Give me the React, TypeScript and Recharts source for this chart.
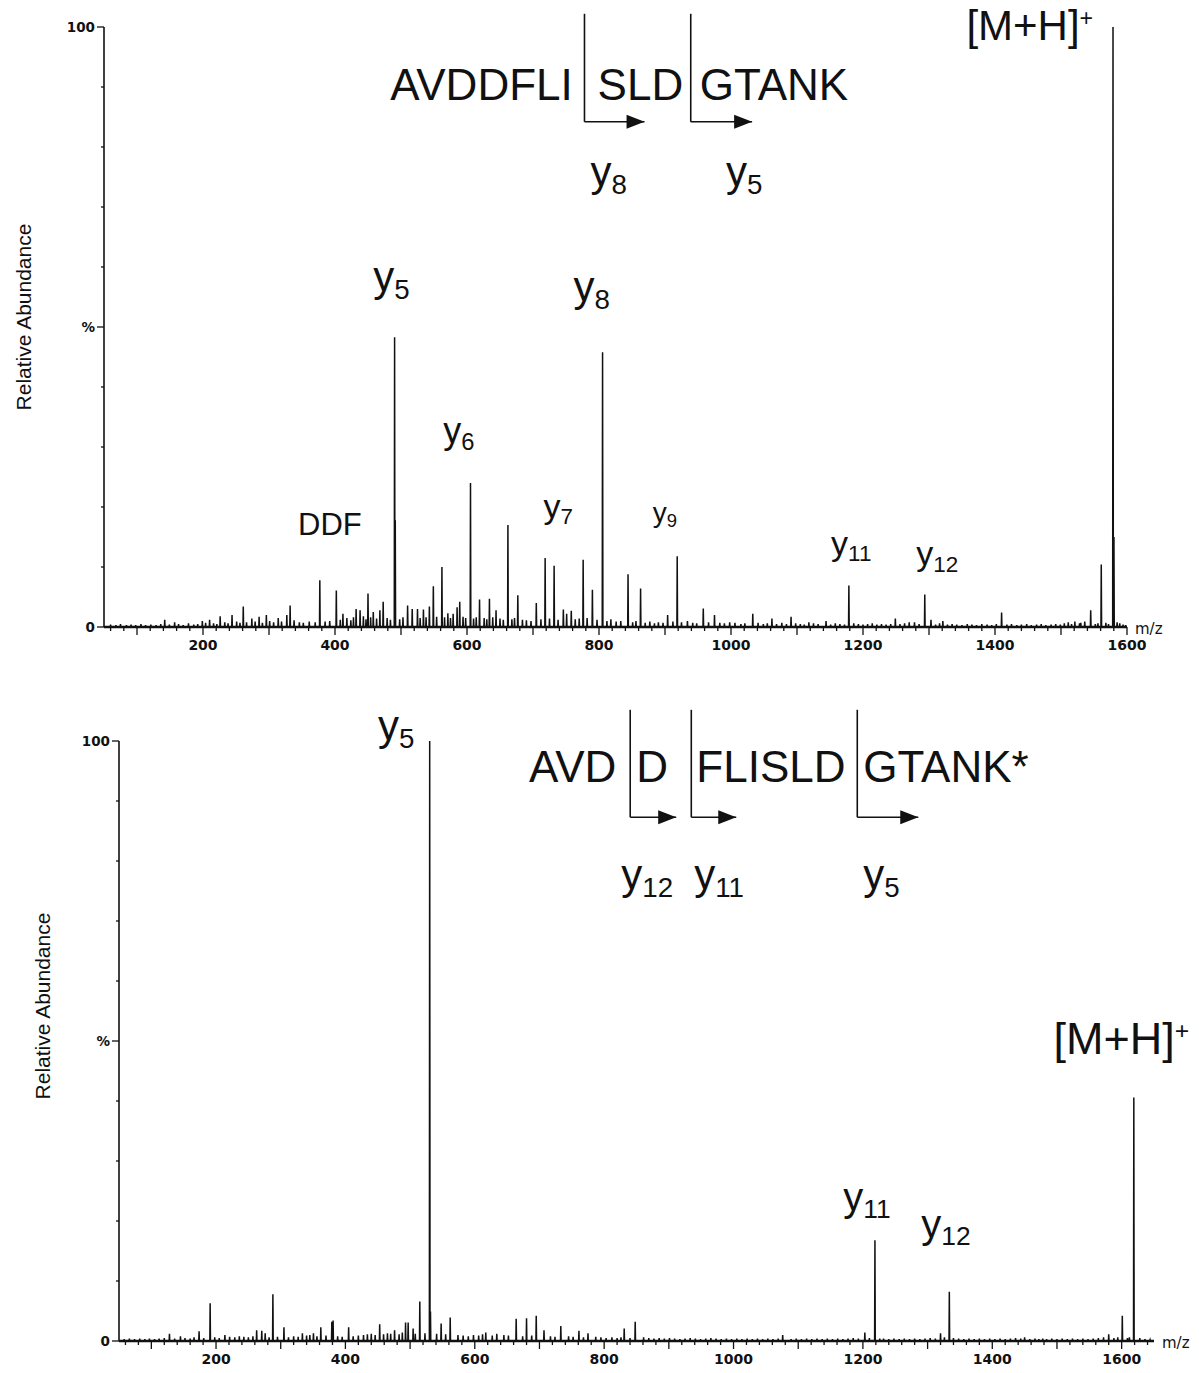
import React from "react";
import { LineChart, Line, XAxis, YAxis, ReferenceDot, ReferenceLine } from "recharts";

const SANS = "'Liberation Sans', Arial, sans-serif";
const TICK_FONT = "'DejaVu Sans', sans-serif";

// ---- top spectrum: native peptide, [m/z, relative abundance %] ----
const topPeaks: [number, number][] = [
  [142, 1.2], [157, 0.8], [199, 1], [210, 1.2], [226, 1.8], [244, 2], [261, 3.4], [274, 1.4],
  [285, 1.7], [296, 2], [314, 1.5], [327, 2], [332, 3.6], [346, 0.8], [377, 7.8], [402, 6.1],
  [412, 2.2], [432, 3], [438, 2.8], [450, 5.6], [458, 2.5], [468, 2.8], [473, 4.2],
  [490.3, 48.3], [491.3, 17.8], [510, 3.6], [517, 3], [525, 3], [534, 2.9], [543, 3.4],
  [549, 6.8], [562, 10], [571, 2.3], [579, 2.2], [585, 3.3], [589, 4.2], [605.3, 24],
  [619, 4.6], [634, 4.7], [644, 2.8], [662, 17], [677, 5.3], [705, 4], [718.4, 11.5],
  [732, 10.2], [746, 2.9], [751, 2.2], [758, 2.7], [776, 11.2], [790, 6.2], [805.4, 45.8],
  [844, 8.8], [863, 6.4], [904, 2], [918.5, 11.8], [934, 1], [958, 3.1], [975, 2],
  [1033, 2.2], [1062, 1.4], [1091, 1.7], [1118, 0.8], [1144, 1], [1178.6, 6.9], [1249, 1.4],
  [1278, 0.8], [1293.6, 5.4], [1303, 1.2], [1321, 1], [1410, 2.4], [1511, 0.8], [1521, 0.9],
  [1536, 0.9], [1545, 2.8], [1561, 10.4], [1578.8, 100], [1580.2, 15], [1589, 0.6],
];

const topNoise: [number, number][] = [
  [60, 0.4], [68, 0.3], [75, 0.5], [84, 0.3], [91, 0.4], [98, 0.3], [106, 0.5], [113, 0.3],
  [121, 0.4], [129, 0.3], [136, 0.5], [149, 0.4], [163, 0.5], [170, 0.3], [178, 0.6], [186, 0.4],
  [192, 0.5], [204, 0.7], [216, 0.6], [221, 0.5], [233, 0.8], [238, 0.6], [251, 0.9], [256, 0.7],
  [266, 0.8], [279, 0.9], [290, 0.7], [301, 1], [307, 0.8], [319, 0.9], [338, 1.1], [352, 0.7],
  [361, 0.9], [370, 0.8], [385, 0.9], [392, 1], [408, 1.2], [418, 1.5], [424, 1.1], [428, 1.6],
  [443, 1.8], [447, 1.3], [454, 1.6], [463, 1.4], [479, 1.5], [484, 1.2], [498, 1.3], [503, 1.6],
  [529, 1.5], [538, 1.6], [554, 1.7], [566, 1.6], [575, 1.5], [594, 1.7], [598, 1.5], [610, 1.4],
  [614, 1.6], [626, 1.5], [630, 1.3], [639, 1.6], [650, 1.4], [655, 1.2], [668, 1.3], [672, 1.5],
  [684, 1.2], [690, 1.1], [697, 1], [712, 1.3], [725, 1.4], [738, 1.2], [764, 1.3], [770, 1.4],
  [782, 1.5], [797, 1.2], [812, 1], [818, 1.3], [826, 0.9], [833, 1], [851, 0.8], [856, 1],
  [870, 0.7], [877, 0.9], [884, 0.6], [890, 0.8], [897, 0.7], [912, 0.9], [925, 0.8], [942, 0.7],
  [948, 0.6], [966, 0.8], [983, 0.7], [990, 0.6], [998, 0.8], [1006, 0.7], [1015, 0.5], [1021, 0.6],
  [1041, 0.7], [1049, 0.5], [1055, 0.6], [1069, 0.5], [1077, 0.7], [1084, 0.5], [1098, 0.6],
  [1105, 0.5], [1111, 0.4], [1125, 0.6], [1132, 0.5], [1151, 0.4], [1158, 0.6], [1165, 0.5],
  [1172, 0.4], [1186, 0.6], [1193, 0.5], [1200, 0.4], [1207, 0.5], [1214, 0.6], [1221, 0.4],
  [1228, 0.5], [1235, 0.4], [1242, 0.5], [1256, 0.5], [1263, 0.6], [1270, 0.8], [1285, 0.5],
  [1310, 0.4], [1316, 0.6], [1328, 0.4], [1335, 0.5], [1342, 0.4], [1350, 0.3], [1358, 0.5],
  [1365, 0.4], [1372, 0.3], [1380, 0.5], [1388, 0.4], [1395, 0.3], [1402, 0.5], [1418, 0.4],
  [1425, 0.5], [1433, 0.3], [1440, 0.4], [1448, 0.5], [1455, 0.3], [1463, 0.4], [1470, 0.5],
  [1477, 0.3], [1485, 0.4], [1492, 0.5], [1499, 0.4], [1505, 0.6], [1516, 0.5], [1528, 0.6],
  [1530, 0.7], [1552, 0.5], [1556, 0.6], [1568, 0.7], [1572, 0.5], [1585, 0.8], [1594, 0.4],
  [1598, 0.3],
];

// ---- bottom spectrum: modified peptide (K*) ----
const bottomPeaks: [number, number][] = [
  [128, 1.2], [145, 0.8], [173.8, 1.6], [190.9, 6.3], [213.7, 1], [262.8, 1.8], [270.7, 1.7],
  [276, 1.3], [287.9, 7.8], [305, 2.3], [333.5, 1.3], [350.6, 1.3], [362, 2.3], [379, 3.2],
  [381, 3.4], [405, 2.3], [453, 2.8], [476, 1.8], [493, 3.1], [497, 3.1], [504.7, 2.1],
  [515, 6.6], [530.3, 100], [531.5, 4.9], [548, 2.9], [562, 3.9], [617, 1.4], [634, 1.2],
  [664, 3.7], [680, 3.8], [695, 4.2], [707, 1.8], [733, 2.5], [761, 1.7], [775, 1.3],
  [831, 2.1], [848, 3.2], [1076, 1], [1203, 1.4], [1218.6, 16.8], [1320, 1.3],
  [1333.6, 8.2], [1450, 0.6], [1580, 1.1], [1601, 4.2], [1618.8, 40.6],
];

const bottomNoise: [number, number][] = [
  [58, 0.3], [66, 0.4], [74, 0.3], [82, 0.4], [90, 0.3], [97, 0.4], [105, 0.3], [112, 0.4],
  [120, 0.5], [136, 0.4], [152, 0.5], [160, 0.4], [166, 0.6], [181, 0.5], [198, 0.6], [205, 0.5],
  [221, 0.7], [229, 0.6], [236, 0.8], [243, 0.7], [250, 0.6], [257, 0.8], [282, 0.6], [295, 0.7],
  [312, 0.6], [320, 0.8], [327, 0.7], [340, 0.9], [345, 1], [356, 0.8], [370, 0.9], [388, 0.8],
  [395, 0.7], [412, 0.8], [420, 0.9], [428, 1], [434, 1.1], [440, 1.2], [446, 1], [459, 1.1],
  [465, 1.3], [470, 1.2], [483, 1.1], [488, 1.4], [508, 1.2], [523, 1.3], [541, 1.2], [555, 1.1],
  [574, 1], [582, 0.9], [590, 0.8], [598, 1], [606, 0.9], [612, 1.1], [627, 0.9], [645, 1],
  [652, 0.9], [674, 0.8], [688, 0.9], [717, 0.8], [724, 0.7], [745, 0.8], [752, 0.7], [768, 0.6],
  [787, 0.7], [795, 0.6], [803, 0.5], [812, 0.6], [820, 0.5], [826, 0.6], [840, 0.5], [861, 0.6],
  [869, 0.5], [877, 0.4], [885, 0.5], [893, 0.4], [901, 0.5], [909, 0.4], [917, 0.3], [925, 0.4],
  [933, 0.5], [941, 0.4], [949, 0.3], [957, 0.4], [965, 0.5], [973, 0.4], [981, 0.3], [989, 0.4],
  [997, 0.3], [1005, 0.4], [1013, 0.3], [1021, 0.4], [1029, 0.3], [1037, 0.4], [1045, 0.3],
  [1053, 0.4], [1061, 0.3], [1069, 0.4], [1089, 0.3], [1097, 0.4], [1105, 0.3], [1113, 0.4],
  [1121, 0.3], [1129, 0.4], [1137, 0.3], [1145, 0.4], [1153, 0.3], [1161, 0.4], [1169, 0.3],
  [1177, 0.4], [1185, 0.5], [1193, 0.4], [1210, 0.5], [1226, 0.4], [1232, 0.4], [1240, 0.3],
  [1248, 0.4], [1256, 0.3], [1264, 0.4], [1272, 0.3], [1280, 0.4], [1288, 0.3], [1296, 0.4],
  [1304, 0.5], [1312, 0.4], [1326, 0.6], [1340, 0.5], [1348, 0.4], [1356, 0.3], [1364, 0.4],
  [1372, 0.3], [1380, 0.4], [1388, 0.3], [1396, 0.4], [1404, 0.3], [1412, 0.4], [1420, 0.3],
  [1428, 0.4], [1436, 0.5], [1444, 0.4], [1458, 0.3], [1466, 0.4], [1472, 0.3], [1478, 0.4],
  [1484, 0.3], [1492, 0.4], [1500, 0.3], [1508, 0.4], [1516, 0.3], [1524, 0.4], [1532, 0.3],
  [1540, 0.4], [1548, 0.3], [1556, 0.4], [1564, 0.5], [1572, 0.6], [1588, 0.5], [1594, 0.6],
  [1609, 0.5], [1612, 0.6], [1628, 0.5], [1636, 0.3], [1644, 0.2],
];

// axis labels
const xLabels = [200, 400, 600, 800, 1000, 1200, 1400, 1600];
const yLabels: Record<number, string> = { 0: "0", 50: "%", 100: "100" };

// annotations, anchored in data coordinates (m/z, %)
type Ann = { mz: number; ab: number; main: string; sub?: string; sup?: string; size: number };

const topLabels: Ann[] = [
  { mz: 344, ab: 15.3, main: "DDF", size: 31 },
  { mz: 458, ab: 56, main: "y", sub: "5", size: 42 },
  { mz: 564, ab: 30.7, main: "y", sub: "6", size: 36 },
  { mz: 716, ab: 18.2, main: "y", sub: "7", size: 34 },
  { mz: 761.5, ab: 54.3, main: "y", sub: "8", size: 42 },
  { mz: 881.5, ab: 17.5, main: "y", sub: "9", size: 28 },
  { mz: 1151.7, ab: 12, main: "y", sub: "11", size: 34 },
  { mz: 1280.7, ab: 10.3, main: "y", sub: "12", size: 34 },
  { mz: 1356.7, ab: 97.8, main: "[M+H]", sup: "+", size: 42 },
  // peptide sequence and fragment names
  { mz: 483.6, ab: 87.8, main: "AVDDFLI", size: 44 },
  { mz: 797.9, ab: 87.8, main: "SLD", size: 44 },
  { mz: 952.8, ab: 87.8, main: "GTANK", size: 44 },
  { mz: 787.3, ab: 73.5, main: "y", sub: "8", size: 42 },
  { mz: 992.3, ab: 73.5, main: "y", sub: "5", size: 42 },
];

const bottomLabels: Ann[] = [
  { mz: 450.5, ab: 100.2, main: "y", sub: "5", size: 42 },
  { mz: 1169.7, ab: 21.7, main: "y", sub: "11", size: 40 },
  { mz: 1290.3, ab: 17.2, main: "y", sub: "12", size: 40 },
  { mz: 1494.5, ab: 47.8, main: "[M+H]", sup: "+", size: 45 },
  { mz: 684, ab: 93.2, main: "AVD", size: 44 },
  { mz: 849.5, ab: 93.2, main: "D", size: 44 },
  { mz: 942.5, ab: 93.2, main: "FLISLD", size: 44 },
  { mz: 1200.5, ab: 93.2, main: "GTANK*", size: 44 },
  { mz: 826.4, ab: 75.3, main: "y", sub: "12", size: 42 },
  { mz: 939.2, ab: 75.3, main: "y", sub: "11", size: 42 },
  { mz: 1200.5, ab: 75.3, main: "y", sub: "5", size: 42 },
];

// cleavage marks: vertical bar then arrow to the right
type Cut = { mz: number; tip: number; top: number; arrow: number };
const topCuts: Cut[] = [
  { mz: 778, tip: 869, top: 102.2, arrow: 84.2 },
  { mz: 939, tip: 1032, top: 102.2, arrow: 84.2 },
];
const bottomCuts: Cut[] = [
  { mz: 840.3, tip: 911.4, top: 105.2, arrow: 87.3 },
  { mz: 934.7, tip: 1004.2, top: 105.2, arrow: 87.3 },
  { mz: 1191.3, tip: 1285.6, top: 105.2, arrow: 87.3 },
];

// stick spectrum -> polyline points for the Line series
const toTrace = (peaks: [number, number][], noise: [number, number][], xMax: number) => {
  const all = [...peaks, ...noise].sort((a, b) => a[0] - b[0]);
  const out: { mz: number; ab: number }[] = [{ mz: 50, ab: 0 }];
  for (const [mz, ab] of all) {
    out.push({ mz: mz - 0.5, ab: 0 }, { mz, ab }, { mz: mz + 0.5, ab: 0 });
  }
  out.push({ mz: xMax, ab: 0 });
  return out;
};

const XTick = (props: any) => {
  const { x, y, payload } = props;
  const v = payload.value;
  const major = v % 100 === 0;
  return (
    <g>
      <line x1={x} x2={x} y1={y} y2={y + (major ? 8 : 4)} stroke="#111" strokeWidth={1.3} />
      {xLabels.includes(v) && (
        <text
          x={x}
          y={y + 23}
          textAnchor="middle"
          fontSize={14}
          fontWeight="bold"
          fontFamily={TICK_FONT}
          fill="#111"
        >
          {v}
        </text>
      )}
    </g>
  );
};

const YTick = (props: any) => {
  const { x, y, payload } = props;
  const v = payload.value;
  const lbl = yLabels[v];
  return (
    <g>
      <line x1={x - (lbl ? 7 : 3)} x2={x} y1={y} y2={y} stroke="#111" strokeWidth={1.3} />
      {lbl && (
        <text
          x={x - 9}
          y={y + 5}
          textAnchor="end"
          fontSize={13.5}
          fontWeight="bold"
          fontFamily={TICK_FONT}
          fill="#111"
        >
          {lbl}
        </text>
      )}
    </g>
  );
};

const AnnText = ({ cx, cy, a }: { cx: number; cy: number; a: Ann }) => (
  <text x={cx} y={cy} fontSize={a.size} fontFamily={SANS} fill="#111">
    {a.main}
    {a.sub && (
      <tspan fontSize={a.size * 0.66} dy={a.size * 0.19}>
        {a.sub}
      </tspan>
    )}
    {a.sup && (
      <tspan fontSize={a.size * 0.55} dy={-a.size * 0.33}>
        {a.sup}
      </tspan>
    )}
  </text>
);

type PanelProps = {
  peaks: [number, number][];
  noise: [number, number][];
  xMax: number;
  height: number;
  margin: { top: number; right: number; bottom: number; left: number };
  labels: Ann[];
  cuts: Cut[];
  yTitle: { x: number; y: number };
};

const Spectrum = ({ peaks, noise, xMax, height, margin, labels, cuts, yTitle }: PanelProps) => {
  const trace = toTrace(peaks, noise, xMax);
  const xTicks: number[] = [];
  for (let t = 60; t <= xMax; t += 20) xTicks.push(t);
  const yTicks = [0, 10, 20, 30, 40, 50, 60, 70, 80, 90, 100];

  return (
    <LineChart width={1199} height={height} data={trace} margin={margin}>
      <XAxis
        dataKey="mz"
        type="number"
        domain={[50, xMax]}
        allowDataOverflow
        ticks={xTicks}
        interval={0}
        tick={<XTick />}
        tickLine={false}
        tickSize={0}
        tickMargin={0}
        height={30}
        axisLine={{ stroke: "#111", strokeWidth: 2.6 }}
        label={{
          content: ({ viewBox }: any) => (
            <text
              x={viewBox.x + viewBox.width + 8}
              y={viewBox.y + 7}
              fontSize={15}
              fontFamily={TICK_FONT}
              fill="#111"
            >
              m/z
            </text>
          ),
        }}
      />
      <YAxis
        type="number"
        domain={[0, 100]}
        ticks={yTicks}
        interval={0}
        tick={<YTick />}
        tickLine={false}
        tickSize={0}
        tickMargin={0}
        width={60}
        axisLine={{ stroke: "#111", strokeWidth: 1.6 }}
        label={{
          content: () => (
            <text
              x={yTitle.x}
              y={yTitle.y}
              transform={`rotate(-90 ${yTitle.x} ${yTitle.y})`}
              textAnchor="middle"
              dominantBaseline="central"
              fontSize={21}
              fontFamily={SANS}
              fill="#111"
            >
              Relative Abundance
            </text>
          ),
        }}
      />
      <Line
        type="linear"
        dataKey="ab"
        stroke="#111"
        strokeWidth={1.5}
        dot={false}
        activeDot={false}
        isAnimationActive={false}
      />
      {cuts.map((c, i) => (
        <ReferenceLine
          key={`v${i}`}
          segment={[{ x: c.mz, y: c.top }, { x: c.mz, y: c.arrow }]}
          stroke="#111"
          strokeWidth={1.6}
          ifOverflow="visible"
        />
      ))}
      {cuts.map((c, i) => (
        <ReferenceLine
          key={`h${i}`}
          segment={[{ x: c.mz, y: c.arrow }, { x: c.tip, y: c.arrow }]}
          stroke="#111"
          strokeWidth={1.6}
          ifOverflow="visible"
        />
      ))}
      {cuts.map((c, i) => (
        <ReferenceDot
          key={`a${i}`}
          x={c.tip}
          y={c.arrow}
          r={0}
          ifOverflow="visible"
          shape={(p: any) => (
            <polygon
              points={`${p.cx},${p.cy} ${p.cx - 18},${p.cy - 7} ${p.cx - 18},${p.cy + 7}`}
              fill="#111"
            />
          )}
        />
      ))}
      {labels.map((a, i) => (
        <ReferenceDot
          key={`t${i}`}
          x={a.mz}
          y={a.ab}
          r={0}
          ifOverflow="visible"
          shape={(p: any) => <AnnText cx={p.cx} cy={p.cy} a={a} />}
        />
      ))}
    </LineChart>
  );
};

export default function App() {
  return (
    <div style={{ position: "absolute", left: 0, top: 0, width: 1199, height: 1373, background: "#fff" }}>
      <div style={{ position: "absolute", left: 0, top: 0 }}>
        <Spectrum
          peaks={topPeaks}
          noise={topNoise}
          xMax={1600}
          height={665}
          margin={{ top: 27, right: 72, bottom: 8, left: 44 }}
          labels={topLabels}
          cuts={topCuts}
          yTitle={{ x: 23, y: 317 }}
        />
      </div>
      <div style={{ position: "absolute", left: 0, top: 700 }}>
        <Spectrum
          peaks={bottomPeaks}
          noise={bottomNoise}
          xMax={1650}
          height={673}
          margin={{ top: 41, right: 45, bottom: 2, left: 59 }}
          labels={bottomLabels}
          cuts={bottomCuts}
          yTitle={{ x: 42, y: 306 }}
        />
      </div>
    </div>
  );
}
